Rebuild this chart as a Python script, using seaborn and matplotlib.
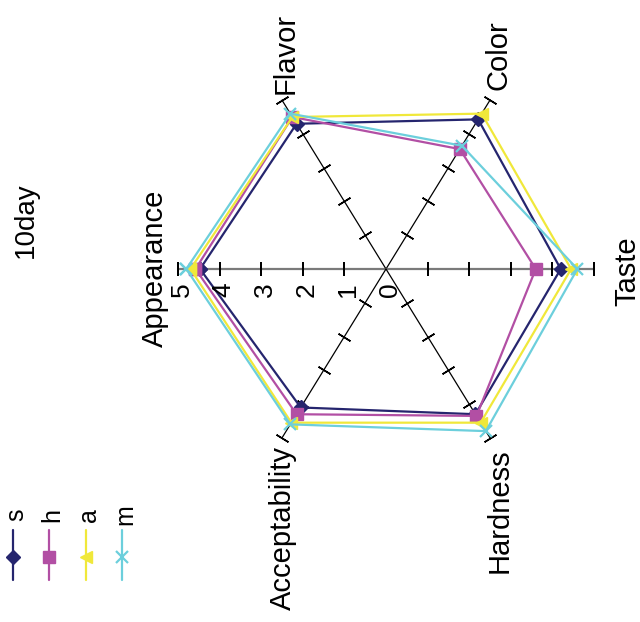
import numpy as np
import pandas as pd
import matplotlib
matplotlib.use("Agg")
import matplotlib.pyplot as plt
import seaborn as sns
from matplotlib.lines import Line2D

# ---------------- data ----------------
categories = ["Appearance", "Flavor", "Color", "Taste", "Hardness", "Acceptability"]
series_names = ["s", "h", "a", "m"]
s_values = [4.47, 4.3, 4.43, 4.2, 4.3, 4.1]
h_values = [4.58, 4.5, 3.55, 3.6, 4.35, 4.3]
a_values = [4.7, 4.5, 4.6, 4.45, 4.55, 4.55]
m_values = [4.8, 4.6, 3.65, 4.6, 4.8, 4.6]
tick_values = [0, 1, 2, 3, 4, 5]
tick_labels = ["0", "1", "2", "3", "4", "5"]
title_text = "10day"

series_values = {"s": s_values, "h": h_values, "a": a_values, "m": m_values}

# ---------------- style ----------------
sns.set_style("white")
plt.rcParams["font.family"] = ["Liberation Sans", "DejaVu Sans"]

colors = {"s": "#25256e", "h": "#b24fa4", "a": "#f0e83a", "m": "#6ccfdc"}
markers = {"s": "D", "h": "s", "a": "<", "m": "x"}
msizes = {"s": 7, "h": 9, "a": 9, "m": 9}
mews = {"s": 1, "h": 1, "a": 1, "m": 1.6}

W, H = 640, 622
fig = plt.figure(figsize=(W / 100, H / 100), dpi=100)
ax = fig.add_axes([178 / W, 158 / H, 416 / W, 390 / H], projection="polar")
ax.set_aspect("auto")
ax.set_theta_offset(np.pi)
ax.set_theta_direction(-1)
ax.grid(False)
ax.spines["polar"].set_visible(False)
ax.patch.set_visible(False)

n = len(categories)
angles = np.arange(n) * 2 * np.pi / n
rmax = tick_values[-1]

# spokes
for i, th in enumerate(angles):
    main = i in (0, 3)
    ax.plot([th, th], [0, rmax], color="#7a7a7a" if main else "black",
            lw=1.6 if main else 0.9, zorder=1, clip_on=False)

ax.set_ylim(0, rmax)

# cross tick marks on spokes
for th in angles:
    p0 = ax.transData.transform((th, 0))
    p1 = ax.transData.transform((th, rmax))
    phi = np.degrees(np.arctan2(p1[1] - p0[1], p1[0] - p0[0]))
    ax.plot([th] * (len(tick_values) - 1), tick_values[1:], ls="none",
            marker=(2, 2, phi), ms=10, mew=1.1, color="black",
            zorder=2, clip_on=False)

# data series
for name in series_names:
    vals = series_values[name]
    df = pd.DataFrame({"theta": np.append(angles, 2 * np.pi),
                       "value": list(vals) + [vals[0]]})
    sns.lineplot(data=df, x="theta", y="value", sort=False, estimator=None,
                 color=colors[name], marker=markers[name], markersize=msizes[name],
                 markeredgecolor=colors[name], markeredgewidth=mews[name],
                 linewidth=1.6, ax=ax, clip_on=False, zorder=3)

ax.set_ylim(0, rmax)
ax.set_xticks([])
ax.set_yticks([])
ax.set_xlabel("")
ax.set_ylabel("")

# value labels along the Appearance axis
for v, lbl in zip(tick_values, tick_labels):
    ax.annotate(lbl, xy=(0, v), xytext=(11, -21), textcoords="offset pixels",
                rotation=90, rotation_mode="anchor", ha="center", va="baseline",
                fontsize=19, color="black", annotation_clip=False)

# category labels (baseline x, center y in image pixels)
label_pos = {
    "Appearance": (163, 268),
    "Flavor": (294, 53),
    "Color": (507, 55),
    "Taste": (635, 271),
    "Hardness": (508, 511),
    "Acceptability": (291, 528),
}
for cat in categories:
    x, y = label_pos[cat]
    fig.text(x / W, 1 - y / H, cat, rotation=90, rotation_mode="anchor",
             ha="center", va="baseline", fontsize=21, color="black")

# title
fig.text(33 / W, 1 - 220 / H, title_text, rotation=90, rotation_mode="anchor",
         ha="center", va="baseline", fontsize=20, color="black")

# legend (rotated)
leg_x = [13, 49, 86, 122]
for name, x in zip(series_names, leg_x):
    fig.add_artist(Line2D([x / W, x / W], [1 - 530 / H, 1 - 580 / H],
                          transform=fig.transFigure, color=colors[name], lw=1.6))
    fig.add_artist(Line2D([x / W], [1 - 557 / H], transform=fig.transFigure,
                          ls="none", marker=markers[name], ms=msizes[name],
                          color=colors[name], mec=colors[name], mew=mews[name]))
    fig.text((x + 10) / W, 1 - 515 / H, name, rotation=90, rotation_mode="anchor",
             ha="center", va="baseline", fontsize=18, color="black")

fig.savefig("out.png", dpi=100, facecolor="white")
